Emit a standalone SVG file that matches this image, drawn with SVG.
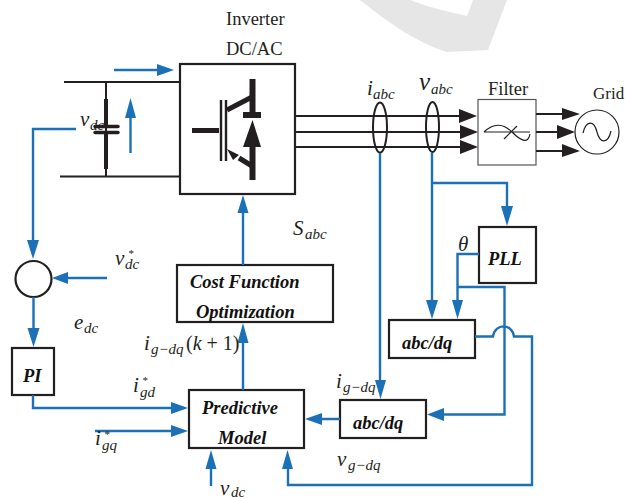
<svg xmlns="http://www.w3.org/2000/svg" width="625" height="499" viewBox="0 0 625 499">
<style>
.k{fill:none;stroke:#231f20;stroke-width:2}
.box{fill:#fff;stroke:#231f20;stroke-width:2.2}
.b{fill:none;stroke:#1c70b8;stroke-width:2.4}
.bh{fill:#1c70b8;stroke:none}
.kh{fill:#231f20;stroke:none}
.t{font-family:"Liberation Serif",serif;font-size:18.500px;fill:#231f20}
.m{font-family:"Liberation Serif",serif;font-style:italic;font-size:21px;fill:#231f20}
.s{font-size:15px}
.st{font-size:11px}
.n{font-family:"Liberation Serif",serif;font-style:italic;font-weight:bold;font-size:18.500px;fill:#111}
</style>
<rect width="625" height="499" fill="#fff"/>
<path d="M360 0C385 20 415 42 447 52L488 50L507 0H473L467 16C450 12 430 8 410 0Z" fill="#e6e6e6"/>

<g id="dc-link">
<path class="k" d="M64 82H180M60 176.500H180M106 82V176"/>
<path d="M106 99V125M106 133V169" stroke="#231f20" stroke-width="4" fill="none"/>
<path d="M95 126.500H118M95 132.500H118" stroke="#231f20" stroke-width="3.500" fill="none" stroke-linecap="round"/>
</g>

<g id="inverter">
<rect class="box" x="180" y="64" width="115" height="130"/>
<path d="M192 130.500H219" stroke="#231f20" stroke-width="5" fill="none"/>
<path d="M221 100V161M226 100V161" stroke="#231f20" stroke-width="2.400" fill="none"/>
<path d="M252.500 79V115M252.500 145V180" stroke="#231f20" stroke-width="6" fill="none"/>
<path d="M227 110L252 97M239 158L252 166" stroke="#231f20" stroke-width="5" fill="none"/>
<path class="kh" d="M227 149L239 155L233 160ZM243 112H261V118H243ZM243 147H261L252.500 120Z"/>
<text class="t" x="226" y="25">Inverter</text>
<text class="t" x="226" y="55">DC/AC</text>
</g>

<g id="filter">
<rect x="478" y="99.500" width="58" height="65.500" fill="#fff" stroke="#555" stroke-width="1.200"/>
<path d="M484 132C494 122 504 124 512 132S528 145 530 134M484 132H530M504 139L517 126" fill="none" stroke="#231f20" stroke-width="1.200"/>
<text class="t" x="488" y="95">Filter</text>
</g>

<g id="grid">
<circle cx="597" cy="132" r="22" fill="#fff" stroke="#231f20" stroke-width="1.200"/>
<path d="M583 133C586 120 594 120 597 132S608 144 611 131" fill="none" stroke="#231f20" stroke-width="1.200"/>
<text class="t" x="593" y="99" style="font-size:17px">Grid</text>
</g>

<g id="pll"><rect class="box" x="479" y="227" width="57" height="56"/><text class="n" x="488" y="265">PLL</text></g>
<g id="abc-dq-v"><rect class="box" x="389" y="320" width="86" height="38"/><text class="n" x="402" y="349">abc/dq</text></g>
<g id="abc-dq-i"><rect class="box" x="340" y="400" width="86" height="38"/><text class="n" x="353" y="429">abc/dq</text></g>
<g id="predictive"><rect class="box" x="189" y="390" width="115" height="58"/><text class="n" x="202" y="414">Predictive</text><text class="n" x="218" y="444">Model</text></g>
<g id="cost"><rect class="box" x="177" y="265" width="156" height="57"/><text class="n" x="190" y="288">Cost Function</text><text class="n" x="196" y="318">Optimization</text></g>
<g id="pi"><rect class="box" x="12" y="348" width="42" height="47"/><text class="n" x="23" y="382">PI</text></g>
<g id="sum"><circle cx="33.500" cy="279" r="18" fill="#fff" stroke="#231f20" stroke-width="2.200"/></g>

<g id="connectors">
<path d="M295 116H460M295 132H460M295 147H460M536 114H564M536 132H564M536 151H564" fill="none" stroke="#231f20" stroke-width="2.200"/>
<path class="kh" d="M459 109L477 116L459 123ZM460 125L478 132L460 139ZM460 140L478 147L460 154ZM562 108L580 114L562 120ZM557 125L575 132L557 139ZM562 144L580 151L562 157Z"/>
<ellipse cx="380" cy="127.500" rx="7" ry="25" fill="none" stroke="#231f20" stroke-width="2"/>
<ellipse cx="432.500" cy="127" rx="6.500" ry="25" fill="none" stroke="#231f20" stroke-width="2"/>

<path class="b" d="M114 70H160M130.500 153V116M76 129H33V242M107 278H66M33.500 297V330M33 395V408H174M95 431H174M211 486V467M243 390V340M243 265V211M340 419H320"/>
<path class="b" d="M380 153V382M432 153V302M432 183H507V208M479 254H457.500V302M458 287H504.500V414.500H444M475 336.500H493C495 323 512 323 514 336.500H532V485H288V467"/>
<path class="bh" d="M157 64L174 70L157 76ZM130.500 98L136 118H125ZM33 259L27 240H39ZM52 278L68 272V284ZM33.500 347L27.500 328H39.500ZM188 408L171 402V414ZM188 431L171 425V437ZM211 450L216.500 469H205.500ZM287.500 450L293 469H282ZM243 323L248.500 343H237.500ZM243 195L248.500 213H237.500ZM305 419L322 413V425ZM380.500 399L375 380H386ZM432 319L426 300H438ZM457.500 319L452 300H463ZM507 226L501 206H513ZM427 414.500L444 408V421Z"/>
</g>

<g id="labels">
<text class="m" x="80" y="126">v</text><text class="m s" x="90" y="130">dc</text>
<text class="m" x="367" y="95">i</text><text class="m s" x="373" y="99">abc</text>
<text class="m" x="419" y="90" style="font-size:25px">v</text><text class="m s" x="431" y="94">abc</text>
<text class="m" x="293" y="235">S</text><text class="m s" x="305" y="239">abc</text>
<text class="m" x="458" y="251">θ</text>
<text class="m" x="115" y="265">v</text><text class="m st" x="128" y="257">*</text><text class="m s" x="125" y="269">dc</text>
<text class="m" x="74" y="329">e</text><text class="m s" x="84" y="333">dc</text>
<text class="m" x="144" y="350">i</text><text class="m s" x="151" y="354">g−dq</text><text class="t" x="186" y="350" style="font-size:20px">(<tspan font-style="italic">k</tspan> + 1)</text>
<text class="m" x="133" y="392">i</text><text class="m st" x="142" y="384">*</text><text class="m s" x="140" y="397">gd</text>
<text class="m" x="95" y="445">i</text><text class="m st" x="104" y="438">*</text><text class="m s" x="102" y="450">gq</text>
<text class="m" x="220" y="495">v</text><text class="m s" x="231" y="497">dc</text>
<text class="m" x="336" y="388">i</text><text class="m s" x="343" y="392">g−dq</text>
<text class="m" x="337" y="466">v</text><text class="m s" x="348" y="470">g−dq</text>
</g>
</svg>
